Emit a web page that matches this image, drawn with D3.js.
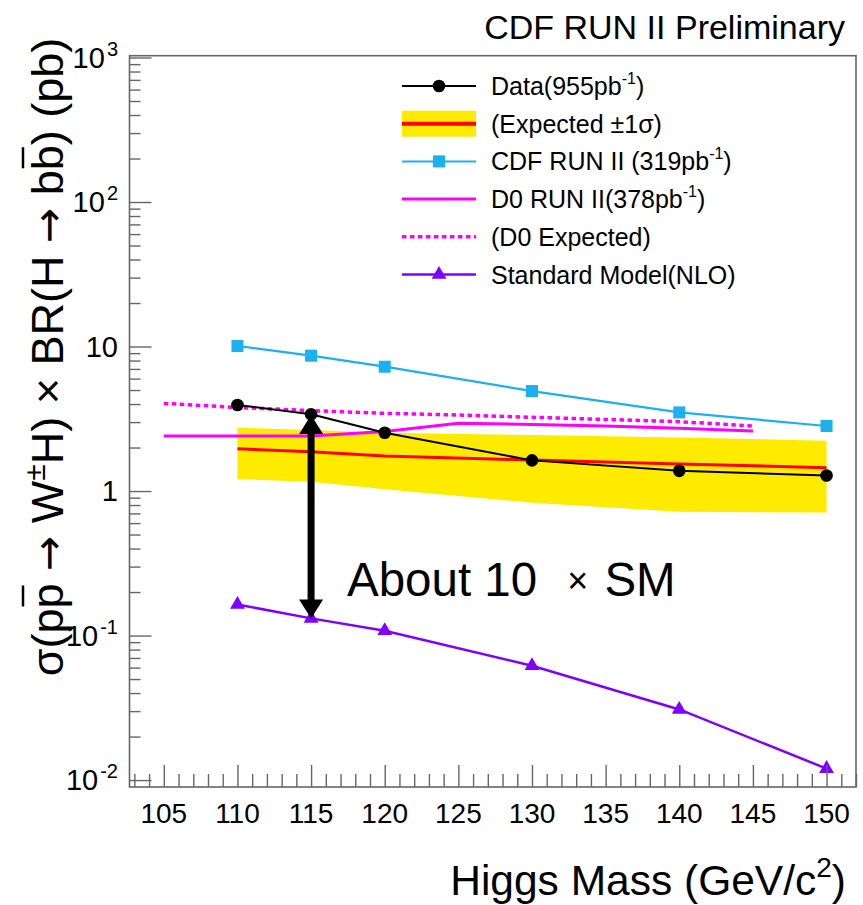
<!DOCTYPE html>
<html>
<head>
<meta charset="utf-8">
<script src="https://cdn.jsdelivr.net/npm/d3@7"></script>
<style>
  html, body { margin: 0; padding: 0; background: #fff; }
  svg text { font-family: "Liberation Sans", Arial, Helvetica, sans-serif; }
</style>
</head>
<body>
<svg id="chart" width="863" height="905"></svg>
<script>
// ---------------- data ----------------
const masses      = [110, 115, 120, 130, 140, 150];
const dataObs     = [3.94, 3.40, 2.53, 1.63, 1.38, 1.28];   // Data (955 pb^-1)
const expMedian   = [1.96, 1.87, 1.75, 1.64, 1.54, 1.45];   // expected
const expLow      = [1.21, 1.16, 1.03, 0.83, 0.72, 0.71];   // expected -1 sigma
const expHigh     = [2.74, 2.64, 2.53, 2.44, 2.35, 2.23];   // expected +1 sigma
const cdfPrev     = [10.08, 8.64, 7.25, 4.92, 3.50, 2.82];  // CDF RUN II (319 pb^-1)
const smXsec      = [0.164, 0.1315, 0.108, 0.0618, 0.0308, 0.0120]; // SM NLO
const d0Masses    = [105, 110, 115, 120, 125, 130, 135, 140, 145];
const d0Obs       = [2.40, 2.40, 2.40, 2.58, 2.94, 2.89, 2.82, 2.72, 2.60];
const d0Exp       = [4.04, 3.79, 3.60, 3.45, 3.36, 3.24, 3.13, 3.02, 2.82];
const xTicksMajor = [105, 110, 115, 120, 125, 130, 135, 140, 145, 150];
const yTickExps   = [-2, -1, 0, 1, 2, 3];
const yTickLabels = [["10","-2"], ["10","-1"], ["1",""], ["10",""], ["10","2"], ["10","3"]];
const arrowMass = 115, arrowTop = 3.36, arrowBottom = 0.131;
const xDomain = [102.67, 152.0];
const yDomain = [Math.pow(10, -2.048), Math.pow(10, 3.0125)];

// ---------------- layout ----------------
const svg = d3.select("#chart");
const L = 129.5, R = 856, T = 55.7, B = 787;
const x = d3.scaleLinear().domain(xDomain).range([L, R]);
const y = d3.scaleLog().domain(yDomain).range([B, T]);
const frameCol = "#666";
const arrowFont = "DejaVu Sans";

const cBlue = "#1cb0ee", cMag = "#ff00ff", cPurp = "#8000ff", cYel = "#ffeb00", cRed = "#ff0000";

// band
const bandData = masses.map((m, i) => ({m, lo: expLow[i], hi: expHigh[i]}));
svg.append("path").datum(bandData)
  .attr("d", d3.area().x(d => x(d.m)).y0(d => y(d.lo)).y1(d => y(d.hi)))
  .attr("fill", cYel);

const line = d3.line().x(d => x(d[0])).y(d => y(d[1]));
const zip = (a, b) => a.map((v, i) => [v, b[i]]);

svg.append("path").attr("d", line(zip(masses, expMedian)))
  .attr("fill", "none").attr("stroke", cRed).attr("stroke-width", 3);
svg.append("path").attr("d", line(zip(d0Masses, d0Obs)))
  .attr("fill", "none").attr("stroke", cMag).attr("stroke-width", 3);
svg.append("path").attr("d", line(zip(d0Masses, d0Exp)))
  .attr("fill", "none").attr("stroke", cMag).attr("stroke-width", 3.5).attr("stroke-dasharray", "4.5,3.5");
svg.append("path").attr("d", line(zip(masses, cdfPrev)))
  .attr("fill", "none").attr("stroke", cBlue).attr("stroke-width", 2.2);
svg.selectAll(".sq").data(zip(masses, cdfPrev)).enter().append("rect")
  .attr("x", d => x(d[0]) - 6).attr("y", d => y(d[1]) - 6).attr("width", 12).attr("height", 12)
  .attr("fill", cBlue);
svg.append("path").attr("d", line(zip(masses, dataObs)))
  .attr("fill", "none").attr("stroke", "#000").attr("stroke-width", 2);
svg.selectAll(".dot").data(zip(masses, dataObs)).enter().append("circle")
  .attr("cx", d => x(d[0])).attr("cy", d => y(d[1])).attr("r", 6.3).attr("fill", "#000");
svg.append("path").attr("d", line(zip(masses, smXsec)))
  .attr("fill", "none").attr("stroke", cPurp).attr("stroke-width", 2.5);
const tri = d3.symbol().type(d3.symbolTriangle).size(95);
svg.selectAll(".tri").data(zip(masses, smXsec)).enter().append("path")
  .attr("d", tri).attr("transform", d => `translate(${x(d[0])},${y(d[1])})`).attr("fill", cPurp);

// arrow
(function() {
  const ax = x(arrowMass), yt = y(arrowTop), yb = y(arrowBottom);
  const hl = 19, hw = 12;
  svg.append("line").attr("x1", ax).attr("x2", ax).attr("y1", yt + hl - 2).attr("y2", yb - hl + 2)
    .attr("stroke", "#000").attr("stroke-width", 7);
  svg.append("path").attr("d", `M${ax},${yt} L${ax - hw},${yt + hl} L${ax + hw},${yt + hl} Z`).attr("fill", "#000");
  svg.append("path").attr("d", `M${ax},${yb} L${ax - hw},${yb - hl} L${ax + hw},${yb - hl} Z`).attr("fill", "#000");
})();

// annotation
const ann = svg.append("text").attr("x", 347).attr("y", 596).attr("font-size", 47.5).attr("fill", "#000");
ann.append("tspan").text("About 10 ");
ann.append("tspan").attr("font-size", 36).attr("dx", 17).attr("dy", -3).text("×");
ann.append("tspan").attr("dy", 3).attr("dx", 16).text("SM");

// frame
svg.append("rect").attr("x", L).attr("y", T).attr("width", R - L).attr("height", B - T)
  .attr("fill", "none").attr("stroke", frameCol).attr("stroke-width", 1.6);

// x axis ticks
const xMinor = d3.range(103, 153).filter(v => v % 5 !== 0);
const gx = svg.append("g").attr("transform", `translate(0,${B})`);
gx.call(d3.axisBottom(x).tickValues(xTicksMajor).tickSize(-22).tickSizeOuter(0).tickFormat(""));
gx.append("g").call(d3.axisBottom(x).tickValues(xMinor).tickSize(-13).tickSizeOuter(0).tickFormat(""));
gx.selectAll(".domain").remove();
gx.selectAll("line").attr("stroke", frameCol).attr("stroke-width", 1.4);
svg.selectAll(".xlab").data(xTicksMajor).enter().append("text")
  .attr("x", d => x(d)).attr("y", 823).attr("text-anchor", "middle").attr("font-size", 28)
  .text(d => d);

// y axis ticks
const yMajor = yTickExps.map(e => Math.pow(10, e));
const yMinor = [];
for (let e = -2; e <= 2; e++) for (let m = 2; m <= 9; m++) yMinor.push(m * Math.pow(10, e));
const gy = svg.append("g").attr("transform", `translate(${L},0)`);
gy.call(d3.axisLeft(y).tickValues(yMajor).tickSize(-22).tickSizeOuter(0).tickFormat(""));
gy.append("g").call(d3.axisLeft(y).tickValues(yMinor.filter(v => v <= yDomain[1])).tickSize(-11).tickSizeOuter(0).tickFormat(""));
gy.selectAll(".domain").remove();
gy.selectAll("line").attr("stroke", frameCol).attr("stroke-width", 1.4);

yTickExps.forEach((e, i) => {
  const [base, sup] = yTickLabels[i];
  const t = svg.append("text").attr("x", 118).attr("y", y(Math.pow(10, e)) + 10)
    .attr("text-anchor", "end").attr("font-size", 29);
  t.append("tspan").text(base);
  if (sup) t.append("tspan").attr("font-size", 20).attr("dy", -12).attr("dx", 2).text(sup);
});

// title
svg.append("text").attr("x", 845).attr("y", 39).attr("text-anchor", "end").attr("font-size", 34)
  .text("CDF RUN II Preliminary");

// x title
const xt = svg.append("text").attr("x", 846).attr("y", 895).attr("text-anchor", "end").attr("font-size", 42.5);
xt.append("tspan").text("Higgs Mass (GeV/c");
xt.append("tspan").attr("font-size", 28).attr("dy", -18).text("2");
xt.append("tspan").attr("dy", 18).text(")");

// y title
const yg = svg.append("g").attr("transform", "translate(63,357) rotate(-90)");
const yt = yg.append("text").attr("x", 0).attr("y", 0).attr("text-anchor", "middle").attr("font-size", 45);
const parts = [
  {t: "σ(pp "},
  {t: "→", f: arrowFont},
  {t: " W"},
  {t: "±", sup: true},
  {t: "H) × BR(H ", back: true},
  {t: "→", f: arrowFont},
  {t: " bb) (pb)"}
];
parts.forEach(p => {
  const ts = yt.append("tspan").text(p.t);
  if (p.f) ts.attr("font-family", p.f).attr("font-size", 42);
  if (p.sup) ts.attr("font-size", 30).attr("dy", -18);
  if (p.back) ts.attr("dy", 18);
});
// overlines on the anti-particles (second 'p', second 'b')
(function() {
  const node = yt.node();
  const full = parts.map(p => p.t).join("");
  const idxP = 3;
  const idxB = full.indexOf("bb)") + 1;
  [idxP, idxB].forEach(i => {
    const ext = node.getExtentOfChar(i);
    yg.append("line").attr("x1", ext.x + 2).attr("x2", ext.x + ext.width - 2)
      .attr("y1", ext.y + 1).attr("y2", ext.y + 1).attr("stroke", "#000").attr("stroke-width", 2.5);
  });
})();

// legend
const legY0 = 86, legStep = 37.7, lx1 = 402, lx2 = 476, ltx = 491;
const legItems = [
  {type: "data", text: ["Data(955pb", "-1", ")"]},
  {type: "band", text: ["(Expected ±1σ)"]},
  {type: "cdf", text: ["CDF RUN II (319pb", "-1", ")"]},
  {type: "d0", text: ["D0 RUN II(378pb", "-1", ")"]},
  {type: "d0exp", text: ["(D0 Expected)"]},
  {type: "sm", text: ["Standard Model(NLO)"]}
];
const lg = svg.append("g");
legItems.forEach((it, i) => {
  const cy = legY0 + i * legStep, cx = (lx1 + lx2) / 2;
  if (it.type === "band") {
    lg.append("rect").attr("x", lx1).attr("y", cy - 13).attr("width", lx2 - lx1).attr("height", 26).attr("fill", cYel);
    lg.append("line").attr("x1", lx1).attr("x2", lx2).attr("y1", cy).attr("y2", cy).attr("stroke", cRed).attr("stroke-width", 4);
  } else {
    const col = {data: "#000", cdf: cBlue, d0: cMag, d0exp: cMag, sm: cPurp}[it.type];
    const sw = {data: 2, cdf: 2, d0: 3, d0exp: 3.5, sm: 2.5}[it.type];
    const ln = lg.append("line").attr("x1", lx1).attr("x2", lx2).attr("y1", cy).attr("y2", cy)
      .attr("stroke", col).attr("stroke-width", sw);
    if (it.type === "d0exp") ln.attr("stroke-dasharray", "4.5,3.5");
    if (it.type === "data") lg.append("circle").attr("cx", cx).attr("cy", cy).attr("r", 6.3).attr("fill", "#000");
    if (it.type === "cdf") lg.append("rect").attr("x", cx - 6).attr("y", cy - 6).attr("width", 12).attr("height", 12).attr("fill", cBlue);
    if (it.type === "sm") lg.append("path").attr("d", tri).attr("transform", `translate(${cx},${cy})`).attr("fill", cPurp);
  }
  const t = lg.append("text").attr("x", ltx).attr("y", cy + 9).attr("font-size", 25);
  t.append("tspan").text(it.text[0]);
  if (it.text.length > 1) {
    t.append("tspan").attr("font-size", 16).attr("dy", -11).text(it.text[1]);
    t.append("tspan").attr("dy", 11).text(it.text[2]);
  }
});
</script>
</body>
</html>
